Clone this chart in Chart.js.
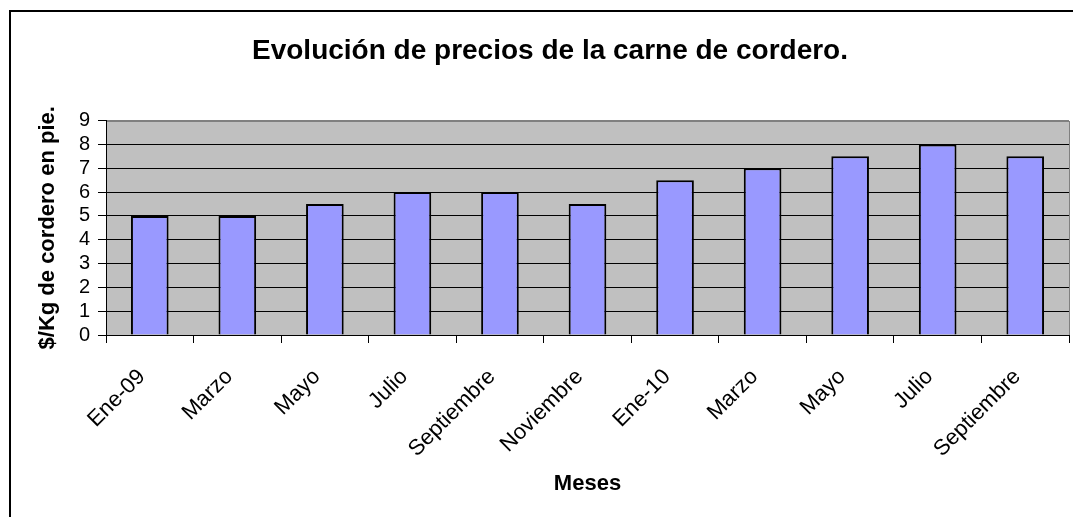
<!DOCTYPE html>
<html lang="es">
<head>
<meta charset="utf-8">
<title>Evolución de precios de la carne de cordero</title>
<script src="https://cdn.jsdelivr.net/npm/chart.js@4.4.1/dist/chart.umd.min.js"></script>
<style>
    html, body { margin: 0; padding: 0; background: #fff; overflow: hidden; }
    #wrap { position: relative; width: 1073px; height: 517px; }
    #frame {
        position: absolute; left: 9px; top: 10px; width: 2000px; height: 2000px;
        border-left: 2px solid #000; border-top: 2px solid #000;
    }
    #chart { position: absolute; left: 0; top: 0; }
</style>
</head>
<body>
<div id="wrap">
    <div id="frame"></div>
    <canvas id="chart" width="1073" height="517"></canvas>
</div>
<script>
const chartTitle = 'Evolución de precios de la carne de cordero.';
const xTitle = 'Meses';
const yTitle = '$/Kg de cordero en pie.';
const months = ['Ene-09', 'Marzo', 'Mayo', 'Julio', 'Septiembre', 'Noviembre', 'Ene-10', 'Marzo', 'Mayo', 'Julio', 'Septiembre'];
const prices = [5, 5, 5.5, 6, 6, 5.5, 6.5, 7, 7.5, 8, 7.5];
const yMin = 0;
const yMax = 9;
const yStep = 1;

const FONT = "'Liberation Sans', Arial, sans-serif";

// gray plot background with a gray box round it
const plotBackground = {
    id: 'plotBackground',
    beforeDraw(chart) {
        const { ctx, chartArea: a } = chart;
        ctx.save();
        ctx.fillStyle = '#C0C0C0';
        ctx.fillRect(a.left, a.top, a.right - a.left, a.bottom - a.top);
        ctx.strokeStyle = '#808080';
        ctx.lineWidth = 1;
        ctx.strokeRect(Math.round(a.left) + 0.5, Math.round(a.top) + 0.5, Math.round(a.right - a.left), Math.round(a.bottom - a.top));
        ctx.restore();
    }
};

const ctx = document.getElementById('chart').getContext('2d');
new Chart(ctx, {
    type: 'bar',
    data: {
        labels: months,
        datasets: [{
            data: prices,
            backgroundColor: '#9999FF',
            borderColor: '#000000',
            borderWidth: 2,
            borderSkipped: 'start',
            categoryPercentage: 1,
            barPercentage: 0.43
        }]
    },
    options: {
        responsive: false,
        animation: false,
        layout: { padding: { top: 0, left: 31, right: 4, bottom: 0 } },
        plugins: {
            legend: { display: false },
            tooltip: { enabled: false },
            title: {
                display: true,
                text: chartTitle,
                color: '#000',
                font: { family: FONT, size: 28, weight: 'bold', lineHeight: 1.2 },
                padding: { top: 34, bottom: 53 }
            }
        },
        scales: {
            x: {
                offset: true,
                grid: { display: true, drawOnChartArea: false, offset: true, tickLength: 8, tickColor: '#000', color: '#000' },
                border: { color: '#000', width: 1 },
                ticks: {
                    autoSkip: false,
                    minRotation: 45,
                    maxRotation: 45,
                    padding: 21,
                    labelOffset: -8,
                    color: '#000',
                    font: { family: FONT, size: 22 }
                },
                title: {
                    display: true,
                    text: xTitle,
                    color: '#000',
                    font: { family: FONT, size: 22, weight: 'bold', lineHeight: 1.2 },
                    padding: { top: 0, bottom: 20 }
                },
                afterFit: (scale) => { scale.height = 182; }
            },
            y: {
                min: yMin,
                max: yMax,
                grid: {
                    color: (c) => c.tick && c.tick.value === yMax ? '#808080' : '#000',
                    tickColor: '#000',
                    tickLength: 8,
                    lineWidth: 1
                },
                border: { color: '#000', width: 1 },
                ticks: {
                    stepSize: yStep,
                    autoSkip: false,
                    padding: 8,
                    color: '#000',
                    font: { family: FONT, size: 20 }
                },
                title: {
                    display: true,
                    text: yTitle,
                    color: '#000',
                    font: { family: FONT, size: 22, weight: 'bold', lineHeight: 1.2 },
                    padding: { top: 4, bottom: 0 }
                },
                afterFit: (scale) => { scale.width = 75; }
            }
        }
    },
    plugins: [plotBackground]
});
</script>
</body>
</html>
